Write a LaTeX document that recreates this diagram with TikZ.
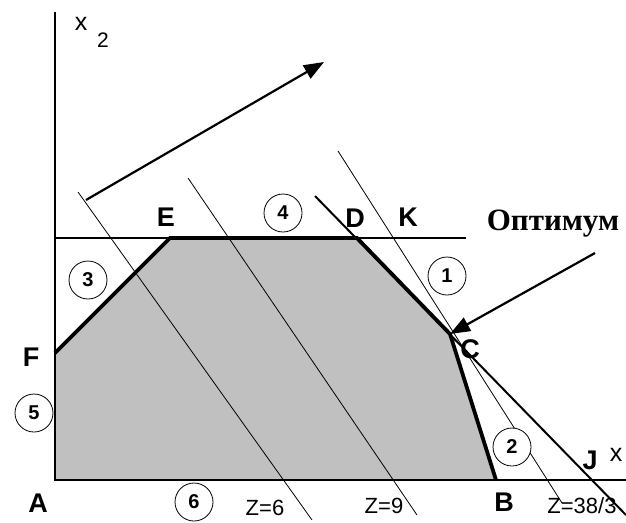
\documentclass[tikz,border=0pt]{standalone}
\usepackage{fontspec}
\setmainfont{Liberation Sans}
\newfontfamily\serifb{Liberation Serif}
\usetikzlibrary{arrows.meta}
\begin{document}
\begin{tikzpicture}[x=1pt,y=-1pt,
  lbl/.style={font=\fontsize{27}{27}\selectfont\bfseries, inner sep=0pt},
  num/.style={draw, circle, line width=0.8pt, minimum size=38pt, inner sep=0pt, fill=white, font=\fontsize{20}{20}\selectfont\bfseries},
  zl/.style={font=\fontsize{22}{22}\selectfont, inner sep=0pt},
  axisline/.style={line width=2.6pt},
  edge/.style={line width=3.8pt},
  cline/.style={line width=2pt},
  zline/.style={line width=0.8pt},
  arr/.style={line width=2.2pt, -{Triangle[length=20pt,width=15pt]}}
]
\useasboundingbox (0,0) rectangle (626,522);
% vertices
\coordinate (A) at (55,480);
\coordinate (F) at (55,353);
\coordinate (E) at (170,238);
\coordinate (D) at (357,238);
\coordinate (C) at (450,334);
\coordinate (B) at (496,480);
% axes ends
\coordinate (ytop) at (55,12);
\coordinate (xend) at (626,480);
\coordinate (l4end) at (466,238);
\coordinate (l4start) at (55,238);
% region
\fill[fill={rgb,255:red,192;green,192;blue,192}] (A) -- (F) -- (E) -- (D) -- (C) -- (B) -- cycle;
% objective lines
\coordinate (z6a) at (78,192);  \coordinate (z6b) at (312,520);
\coordinate (z9a) at (188,178); \coordinate (z9b) at (417,515);
\coordinate (z38a) at (338,151); \coordinate (z38b) at (562,503);
\draw[zline] (z6a) -- (z6b);
\draw[zline] (z9a) -- (z9b);
\draw[zline] (z38a) -- (z38b);
% constraint lines
\draw[cline] (l4start) -- (l4end);
\coordinate (l1a) at (315,196);
\coordinate (l1b) at (626,515);
\draw[cline] (l1a) -- (l1b);
% axes
\draw[axisline] (ytop) -- (A) -- (xend);
% thick boundary
\draw[edge, line join=miter] (F) -- (E) -- (D) -- (C) -- (B);
% gradient arrow
\coordinate (g0) at (86,200);
\coordinate (g1) at (324,62);
\draw[arr] (g0) -- (g1);
% optimum arrow
\node[font=\serifb\fontsize{31}{31}\selectfont\bfseries, inner sep=0pt] (opt) at (553,224) {Оптимум};
\coordinate (o0) at (595,253);
\draw[arr] (o0) -- (C);
% labels
\node[lbl] (lE) at (166,217) {E};
\node[lbl] (lD) at (355,218) {D};
\node[lbl] (lK) at (408,217) {K};
\node[lbl] (lF) at (31,357) {F};
\node[lbl] (lA) at (38,503) {A};
\node[lbl] (lB) at (504,502) {B};
\node[lbl] (lC) at (470,349) {C};
\node[lbl] (lJ) at (590,460) {J};
\node[font=\fontsize{25}{25}\selectfont, inner sep=0pt] (lx1) at (616,455) {x};
\node[font=\fontsize{25}{25}\selectfont, inner sep=0pt] (lx2) at (81,24) {x};
\node[font=\fontsize{21}{21}\selectfont, inner sep=0pt] (lx2s) at (103,40) {2};
% circled numbers
\node[num] (n1) at (447,276) {1};
\node[num] (n2) at (512,447) {2};
\node[num] (n3) at (88,280) {3};
\node[num] (n4) at (283,213) {4};
\node[num] (n5) at (34,413) {5};
\node[num] (n6) at (194,502) {6};
% Z labels
\node[zl] (zt6) at (265,508) {Z=6};
\node[zl] (zt9) at (384,506) {Z=9};
\node[zl] (zt38) at (582,506) {Z=38/3};
\end{tikzpicture}
\end{document}
